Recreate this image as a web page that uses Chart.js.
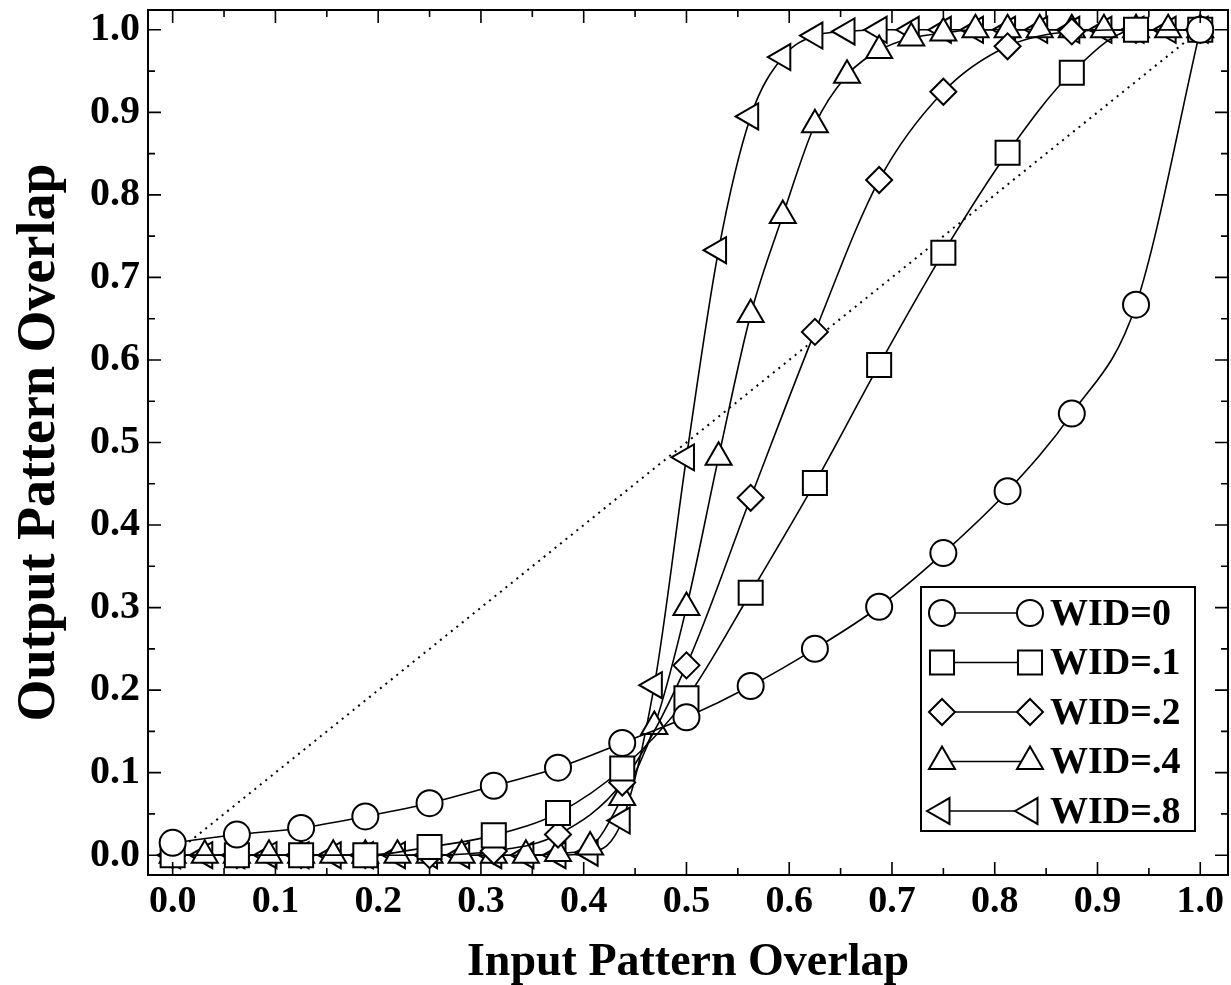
<!DOCTYPE html>
<html>
<head>
<meta charset="utf-8">
<script src="https://cdn.jsdelivr.net/npm/chart.js@4.4.1/dist/chart.umd.min.js"></script>
<style>
  html, body { margin: 0; padding: 0; background: #fff; }
  #wrap { width: 1231px; height: 985px; }
</style>
</head>
<body>
<div id="wrap"><canvas id="chart"></canvas></div>
<script>
// input overlap: markers every 1/16 for WID=0/.1/.2, every 1/32 for WID=.4/.8
const X_COARSE = [0, 0.0625, 0.125, 0.1875, 0.25, 0.3125, 0.375, 0.4375, 0.5,
  0.5625, 0.625, 0.6875, 0.75, 0.8125, 0.875, 0.9375, 1.0];
const X_FINE = [0, 0.03125, 0.0625, 0.09375, 0.125, 0.15625, 0.1875, 0.21875, 0.25,
  0.28125, 0.3125, 0.34375, 0.375, 0.40625, 0.4375, 0.46875, 0.5, 0.53125, 0.5625,
  0.59375, 0.625, 0.65625, 0.6875, 0.71875, 0.75, 0.78125, 0.8125, 0.84375, 0.875,
  0.90625, 0.9375, 0.96875, 1.0];

const WID_0 = [0.015, 0.025, 0.033, 0.047, 0.063, 0.084, 0.106, 0.136, 0.167,
  0.205, 0.250, 0.301, 0.366, 0.441, 0.535, 0.667, 1.0];
const WID_1 = [0, 0, 0, 0, 0.01, 0.024, 0.051, 0.105, 0.19,
  0.318, 0.451, 0.594, 0.73, 0.851, 0.948, 1.0, 1.0];
const WID_2 = [0, 0, 0, 0, 0, 0.005, 0.025, 0.088, 0.23,
  0.433, 0.634, 0.818, 0.925, 0.98, 0.998, 1.0, 1.0];
const WID_4 = [0, 0, 0, 0, 0, 0, 0, 0, 0, 0, 0, 0, 0.002, 0.01, 0.07, 0.156, 0.30,
  0.482, 0.655, 0.775, 0.885, 0.945, 0.975, 0.99, 0.996, 1.0, 1.0, 1.0, 1.0,
  1.0, 1.0, 1.0, 1.0];
const WID_8 = [0, 0, 0, 0, 0, 0, 0, 0, 0, 0, 0, 0, 0, 0.003, 0.042, 0.206, 0.482,
  0.733, 0.895, 0.967, 0.993, 0.998, 1.0, 1.0, 1.0, 1.0, 1.0, 1.0, 1.0,
  1.0, 1.0, 1.0, 1.0];
const DIAGONAL_X = [0, 1];
const DIAGONAL_Y = [0, 1];

const TICK_VALUES = [0, 0.1, 0.2, 0.3, 0.4, 0.5, 0.6, 0.7, 0.8, 0.9, 1.0];
const SERIES_LABELS = ['WID=0', 'WID=.1', 'WID=.2', 'WID=.4', 'WID=.8'];

const FONT = '"Liberation Serif", "Times New Roman", serif';

function zip(xs, ys) {
  return xs.map((x, i) => ({ x, y: ys[i] }));
}

function series(label, xs, ys, style, radius, rotation) {
  return {
    label,
    data: zip(xs, ys),
    showLine: true,
    borderColor: '#000',
    borderWidth: 1.6,
    cubicInterpolationMode: 'monotone',
    pointStyle: style,
    pointRadius: radius,
    pointRotation: rotation || 0,
    pointBorderWidth: 2,
    pointBorderColor: '#000',
    pointBackgroundColor: '#fff',
  };
}

// frame with inward tick marks on all four sides
const framePlugin = {
  id: 'frame',
  afterDatasetsDraw(chart) {
    const { ctx, chartArea: a, scales } = chart;
    ctx.save();
    ctx.strokeStyle = '#000';
    ctx.lineWidth = 2;
    ctx.strokeRect(a.left, a.top, a.right - a.left, a.bottom - a.top);
    ctx.lineWidth = 1.6;
    ctx.beginPath();
    TICK_VALUES.forEach((v, i) => {
      const marks = [[v, 13]];
      if (i < TICK_VALUES.length - 1) marks.push([(v + TICK_VALUES[i + 1]) / 2, 7]);
      marks.forEach(([val, len]) => {
        const px = scales.x.getPixelForValue(val);
        ctx.moveTo(px, a.bottom); ctx.lineTo(px, a.bottom - len);
        ctx.moveTo(px, a.top); ctx.lineTo(px, a.top + len);
        const py = scales.y.getPixelForValue(val);
        ctx.moveTo(a.left, py); ctx.lineTo(a.left + len, py);
        ctx.moveTo(a.right, py); ctx.lineTo(a.right - len, py);
      });
    });
    ctx.stroke();
    ctx.restore();
  },
};

// boxed legend: marker - line - marker, label
const boxLegendPlugin = {
  id: 'boxLegend',
  afterDraw(chart) {
    const { ctx } = chart;
    const box = { left: 921, top: 587, right: 1195, bottom: 831 };
    ctx.save();
    ctx.fillStyle = '#fff';
    ctx.fillRect(box.left, box.top, box.right - box.left, box.bottom - box.top);
    ctx.strokeStyle = '#000';
    ctx.lineWidth = 2;
    ctx.strokeRect(box.left, box.top, box.right - box.left, box.bottom - box.top);
    const metas = chart.data.datasets.filter((d) => SERIES_LABELS.includes(d.label));
    metas.forEach((ds, i) => {
      const y = box.top + 26 + i * 49.5;
      const x1 = 942, x2 = 1030;
      ctx.strokeStyle = '#000';
      ctx.lineWidth = 1.6;
      ctx.beginPath();
      ctx.moveTo(x1, y); ctx.lineTo(x2, y);
      ctx.stroke();
      const opts = { pointStyle: ds.pointStyle, radius: ds.pointRadius, rotation: ds.pointRotation, borderWidth: 2 };
      [x1, x2].forEach((x) => {
        ctx.fillStyle = '#fff';
        ctx.strokeStyle = '#000';
        ctx.lineWidth = 2;
        Chart.helpers.drawPoint(ctx, opts, x, y);
      });
      ctx.fillStyle = '#000';
      ctx.font = 'bold 38px ' + FONT;
      ctx.textAlign = 'left';
      ctx.textBaseline = 'middle';
      ctx.fillText(ds.label, 1050, y + 2);
    });
    ctx.restore();
  },
};

const fixedTicks = (axis) => { axis.ticks = TICK_VALUES.map((v) => ({ value: v })); };

new Chart(document.getElementById('chart'), {
  type: 'scatter',
  data: {
    datasets: [
      series('WID=0', X_COARSE, WID_0, 'circle', 13),
      series('WID=.1', X_COARSE, WID_1, 'rect', 17),
      series('WID=.2', X_COARSE, WID_2, 'rectRot', 13),
      series('WID=.4', X_FINE, WID_4, 'triangle', 15),
      series('WID=.8', X_FINE, WID_8, 'triangle', 15, -90),
      {
        label: 'y=x',
        data: zip(DIAGONAL_X, DIAGONAL_Y),
        showLine: true,
        borderColor: '#000',
        borderWidth: 2,
        borderDash: [2, 5],
        pointRadius: 0,
      },
    ],
  },
  options: {
    responsive: true,
    maintainAspectRatio: false,
    animation: false,
    layout: { autoPadding: false, padding: { top: 10, right: 3, left: 0, bottom: 0 } },
    plugins: {
      legend: { display: false },
      tooltip: { enabled: false },
    },
    scales: {
      x: {
        type: 'linear',
        min: -0.024,
        max: 1.027,
        afterBuildTicks: fixedTicks,
        afterFit: (s) => { s.height = 110; s.paddingLeft = 0; s.paddingRight = 0; },
        grid: { display: false, drawTicks: false },
        border: { display: false },
        ticks: {
          color: '#000',
          padding: 4,
          maxRotation: 0,
          font: { family: FONT, weight: 'bold', size: 38 },
          callback: (v) => Number(v).toFixed(1),
        },
        title: {
          display: true,
          text: 'Input Pattern Overlap',
          color: '#000',
          padding: { top: 0, bottom: -6 },
          font: { family: FONT, weight: 'bold', size: 46 },
        },
      },
      y: {
        type: 'linear',
        min: -0.024,
        max: 1.024,
        afterBuildTicks: fixedTicks,
        afterFit: (s) => { s.width = 148; s.paddingTop = 0; s.paddingBottom = 0; },
        grid: { display: false, drawTicks: false },
        border: { display: false },
        ticks: {
          color: '#000',
          padding: 8,
          font: { family: FONT, weight: 'bold', size: 40 },
          callback: (v) => Number(v).toFixed(1),
        },
        title: {
          display: true,
          text: 'Output Pattern Overlap',
          color: '#000',
          padding: { top: 8, bottom: 0 },
          font: { family: FONT, weight: 'bold', size: 54 },
        },
      },
    },
  },
  plugins: [framePlugin, boxLegendPlugin],
});
</script>
</body>
</html>
